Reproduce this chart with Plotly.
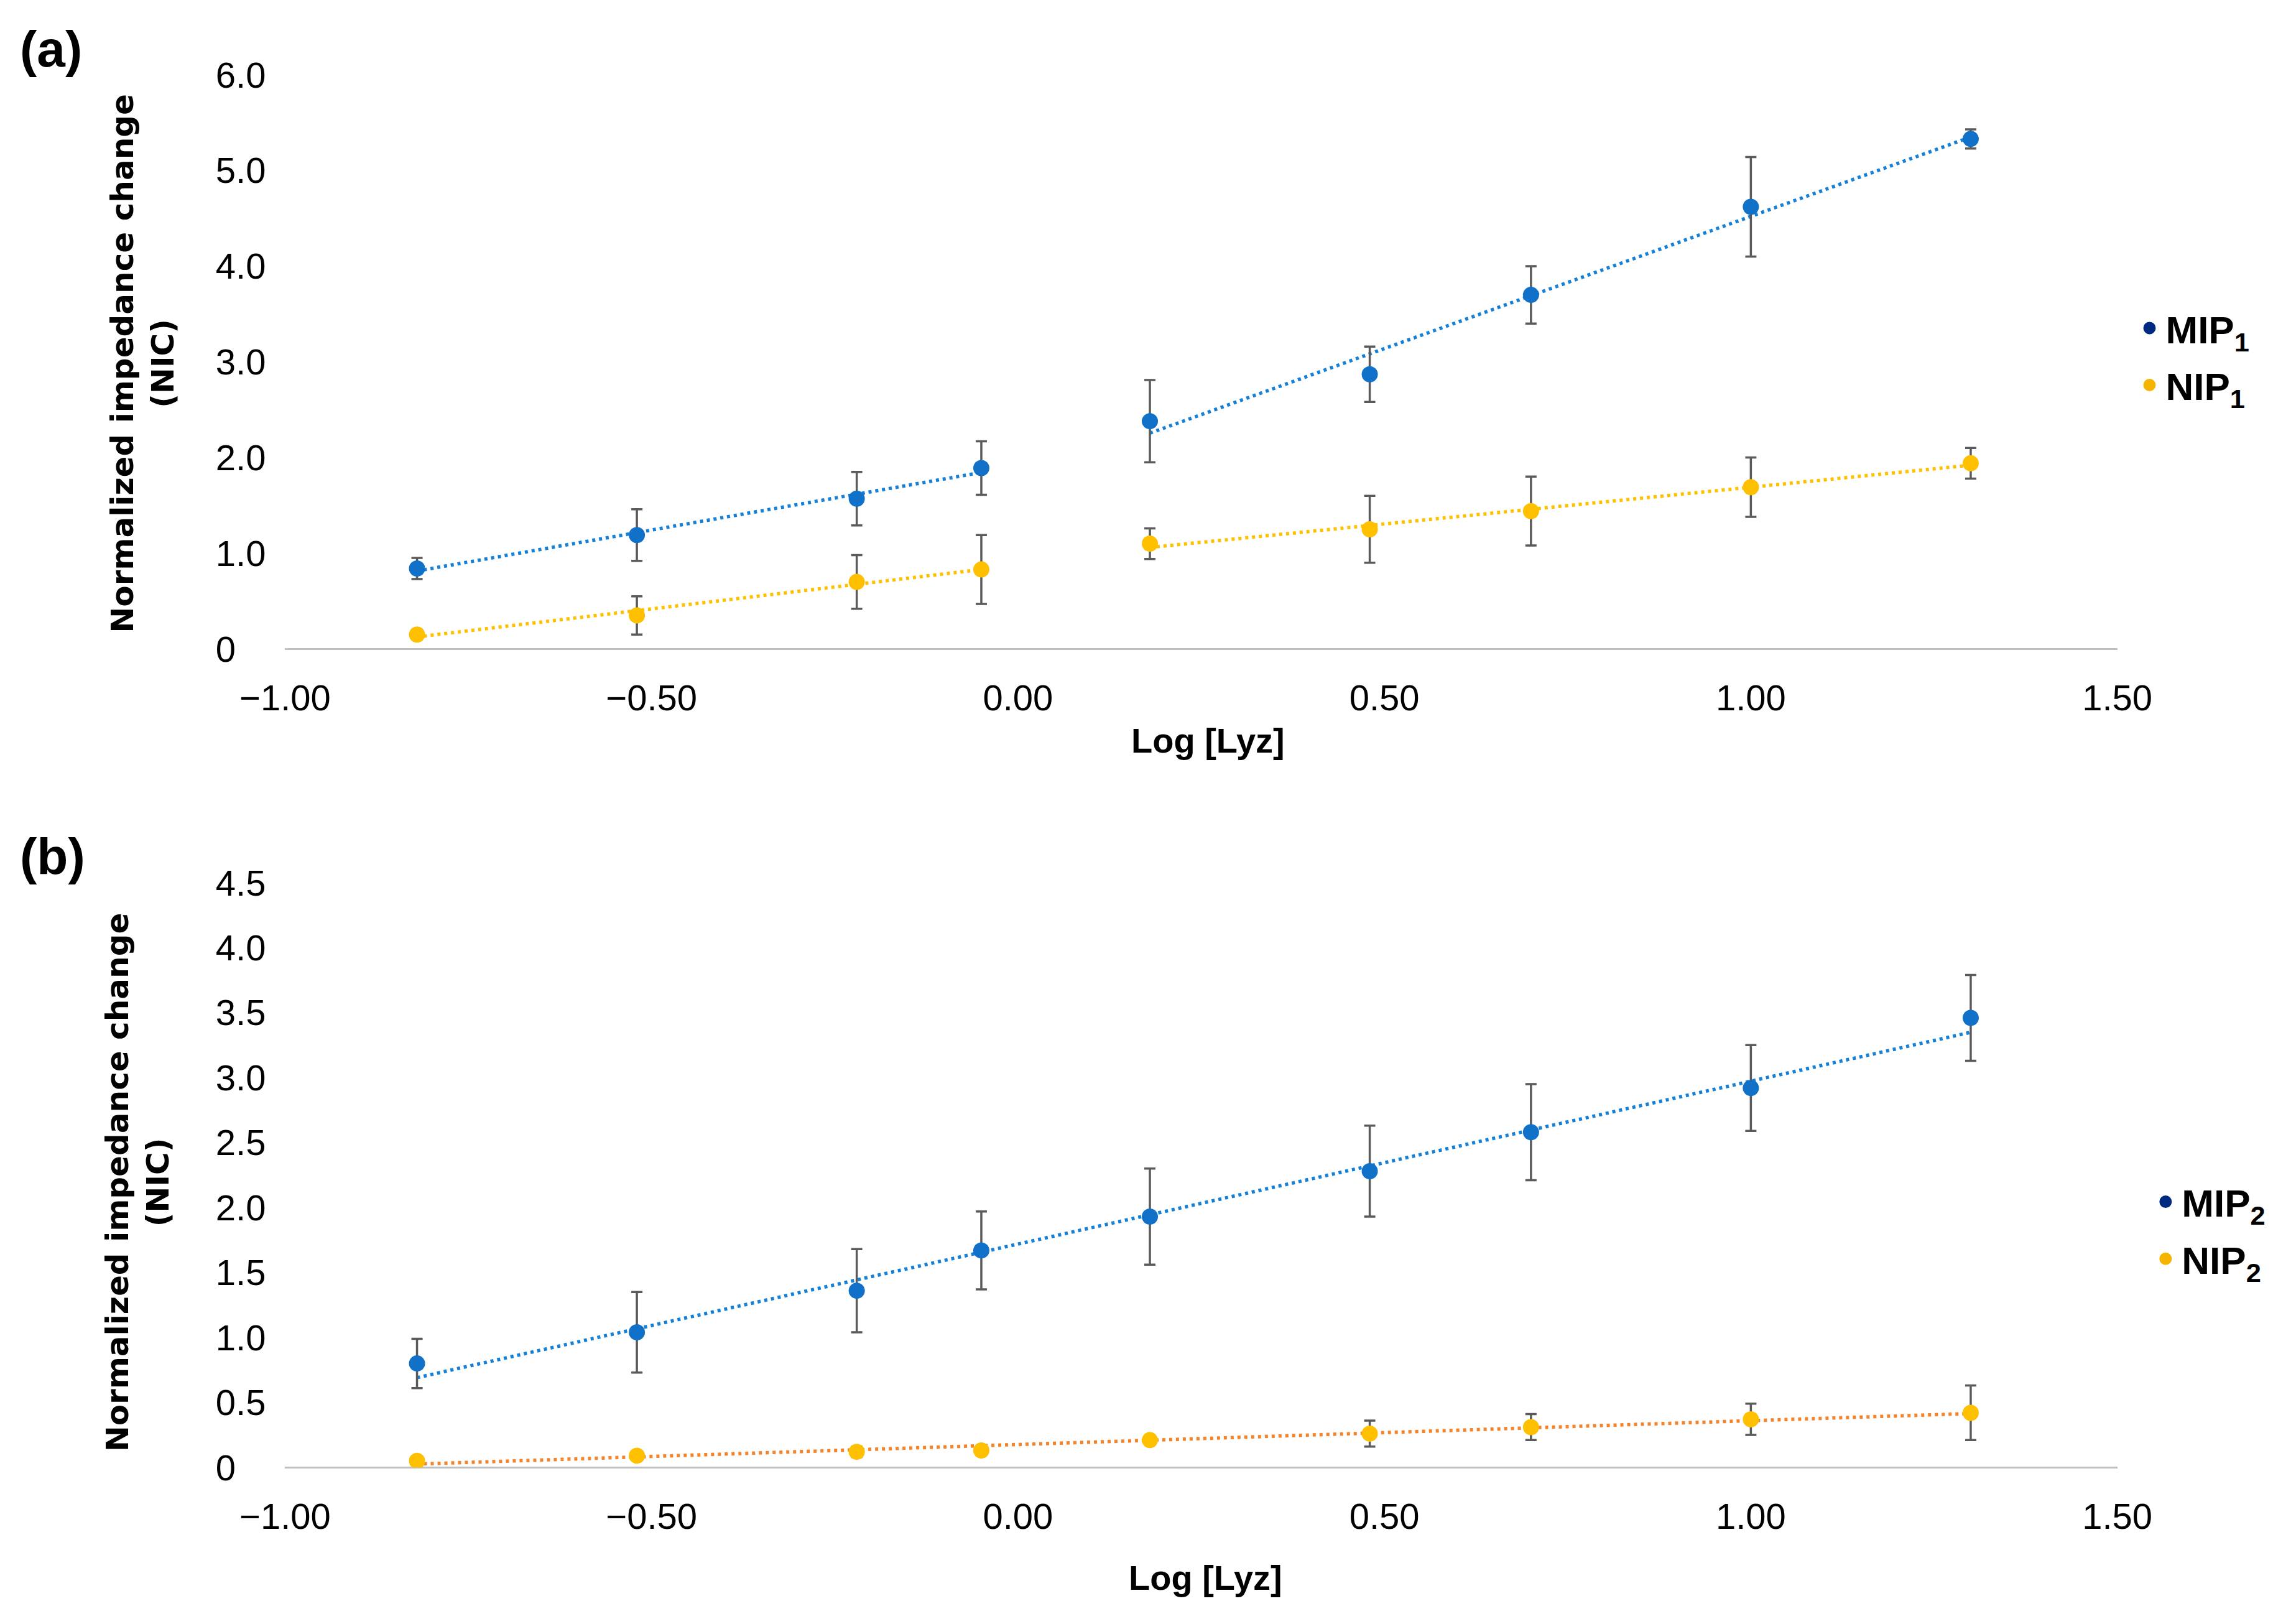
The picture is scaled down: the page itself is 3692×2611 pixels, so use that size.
import numpy as np
import plotly.graph_objects as go

# ---------------- data ----------------
log_lyz = [-0.82, -0.52, -0.22, -0.05, 0.18, 0.48, 0.70, 1.00, 1.30]

mip1 = [0.84, 1.19, 1.57, 1.89, 2.38, 2.87, 3.70, 4.62, 5.33]
mip1_err = [0.11, 0.27, 0.28, 0.28, 0.43, 0.29, 0.30, 0.52, 0.10]
nip1 = [0.15, 0.35, 0.70, 0.83, 1.10, 1.25, 1.44, 1.69, 1.94]
nip1_err = [0.05, 0.20, 0.28, 0.36, 0.16, 0.35, 0.36, 0.31, 0.16]

mip2 = [0.80, 1.04, 1.36, 1.67, 1.93, 2.28, 2.58, 2.92, 3.46]
mip2_err = [0.19, 0.31, 0.32, 0.30, 0.37, 0.35, 0.37, 0.33, 0.33]
nip2 = [0.05, 0.09, 0.12, 0.13, 0.21, 0.26, 0.31, 0.37, 0.42]
nip2_err = [0.02, 0.03, 0.04, 0.03, 0.03, 0.10, 0.10, 0.12, 0.21]

x_ticks = [-1.0, -0.5, 0.0, 0.5, 1.0, 1.5]
y_ticks_a = [0, 1, 2, 3, 4, 5, 6]
y_ticks_b = [0, 0.5, 1, 1.5, 2, 2.5, 3, 3.5, 4, 4.5]

# ---------------- styles ----------------
BLUE = "#1170C8"
BLUE_LINE = "#1580D8"
GOLD = "#FFC000"
ORANGE = "#F5832A"
NAVY = "#002A80"
ERR = "#5A5A5A"
TICK_FONT = dict(family="Liberation Sans Narrow, Liberation Sans, Arial", size=58, color="#000000")
BOLD_FONT = "Liberation Sans, Arial"

fig = go.Figure()


def ylabels(vals):
    out = []
    for v in vals:
        if v == 0:
            out.append("0\u2008\u2007")
        else:
            out.append(f"{v:.1f}")
    return out


def add_series(x, y, err, color, xa, ya):
    fig.add_trace(go.Scatter(
        x=x, y=y, mode="markers", xaxis=xa, yaxis=ya, showlegend=False,
        marker=dict(color=color, size=26),
        error_y=dict(type="data", array=err, visible=True, color=ERR, thickness=3.5, width=9),
    ))


def add_trend(x, y, color, xa, ya):
    k, b = np.polyfit(x, y, 1)
    xs = [x[0], x[-1]]
    fig.add_trace(go.Scatter(
        x=xs, y=[k * xs[0] + b, k * xs[1] + b], mode="lines", xaxis=xa, yaxis=ya,
        showlegend=False, line=dict(color=color, width=5.5, dash="5px,6px"),
    ))


# panel (a): piecewise trend lines (first 4 points, last 5 points)
add_trend(log_lyz[:4], mip1[:4], BLUE_LINE, "x", "y")
add_trend(log_lyz[4:], mip1[4:], BLUE_LINE, "x", "y")
add_trend(log_lyz[:4], nip1[:4], GOLD, "x", "y")
add_trend(log_lyz[4:], nip1[4:], GOLD, "x", "y")
add_series(log_lyz, mip1, mip1_err, BLUE, "x", "y")
add_series(log_lyz, nip1, nip1_err, GOLD, "x", "y")

# panel (b): single trend line
add_trend(log_lyz, mip2, BLUE_LINE, "x2", "y2")
add_trend(log_lyz, nip2, ORANGE, "x2", "y2")
add_series(log_lyz, mip2, mip2_err, BLUE, "x2", "y2")
add_series(log_lyz, nip2, nip2_err, GOLD, "x2", "y2")

# legend entries
for name, col, lg, grp in [
    ("<b>MIP<sub>1</sub></b>", NAVY, "legend", "a1"),
    ("<b>NIP<sub>1</sub></b>", "#F5B400", "legend", "a2"),
    ("<b>MIP<sub>2</sub></b>", NAVY, "legend2", "b1"),
    ("<b>NIP<sub>2</sub></b>", "#F5B400", "legend2", "b2"),
]:
    fig.add_trace(go.Scatter(
        x=[None], y=[None], mode="markers", name=name, legend=lg, legendgroup=grp,
        marker=dict(color=col, size=16, line=dict(color=col, width=4)),
        xaxis="x" if lg == "legend" else "x2",
        yaxis="y" if lg == "legend" else "y2",
    ))

xaxis_common = dict(
    range=[-1.0, 1.5], tickvals=x_ticks, tickformat=".2f", showgrid=False, zeroline=False,
    showline=False, ticks="", tickfont=TICK_FONT, ticklabelstandoff=40, automargin=False,
)
yaxis_common = dict(
    showgrid=False, zeroline=True, zerolinecolor="#BFBFBF", zerolinewidth=3,
    showline=False, ticks="", tickfont=TICK_FONT, ticklabelstandoff=30, automargin=False,
)

fig.update_layout(
    template="none",
    width=3692, height=2611,
    margin=dict(l=0, r=0, t=0, b=0, autoexpand=False),
    paper_bgcolor="white", plot_bgcolor="white",
    xaxis=dict(domain=[0.122, 0.92], anchor="y", **xaxis_common),
    yaxis=dict(domain=[0.6035, 0.957], anchor="x", range=[0, 6], tickvals=y_ticks_a,
               ticktext=ylabels(y_ticks_a), **yaxis_common),
    xaxis2=dict(domain=[0.122, 0.92], anchor="y2", **xaxis_common),
    yaxis2=dict(domain=[0.0995, 0.4595], anchor="x2", range=[0, 4.5], tickvals=y_ticks_b,
                ticktext=ylabels(y_ticks_b), **yaxis_common),
    legend=dict(x=0.927, y=0.819, xanchor="left", yanchor="top", bgcolor="rgba(0,0,0,0)",
                font=dict(family=BOLD_FONT, size=62, color="#000000"), tracegroupgap=8,
                itemwidth=42),
    legend2=dict(x=0.934, y=0.281, xanchor="left", yanchor="top", bgcolor="rgba(0,0,0,0)",
                 font=dict(family=BOLD_FONT, size=62, color="#000000"), tracegroupgap=8,
                 itemwidth=42),
    showlegend=True,
)

ytitle = "<b>Normalized impedance change<br>(NIC)</b>"
ann = [
    dict(text="<b>(a)</b>", x=0.006, y=0.991, xanchor="left", yanchor="top",
         font=dict(family=BOLD_FONT, size=82, color="#000000")),
    dict(text="<b>(b)</b>", x=0.006, y=0.494, xanchor="left", yanchor="top",
         font=dict(family=BOLD_FONT, size=82, color="#000000")),
    dict(text=ytitle, x=0.060, y=0.779, textangle=-90, xanchor="center", yanchor="middle",
         font=dict(family="DejaVu Sans", size=50, color="#000000")),
    dict(text=ytitle, x=0.058, y=0.275, textangle=-90, xanchor="center", yanchor="middle",
         font=dict(family="DejaVu Sans", size=50, color="#000000")),
    dict(text="<b>Log [Lyz]</b>", x=0.524, y=0.547, xanchor="center", yanchor="middle",
         font=dict(family=BOLD_FONT, size=56, color="#000000")),
    dict(text="<b>Log [Lyz]</b>", x=0.523, y=0.0315, xanchor="center", yanchor="middle",
         font=dict(family=BOLD_FONT, size=56, color="#000000")),
]
for a in ann:
    a.update(xref="paper", yref="paper", showarrow=False)
fig.update_layout(annotations=ann)

fig.write_html("out.html")
